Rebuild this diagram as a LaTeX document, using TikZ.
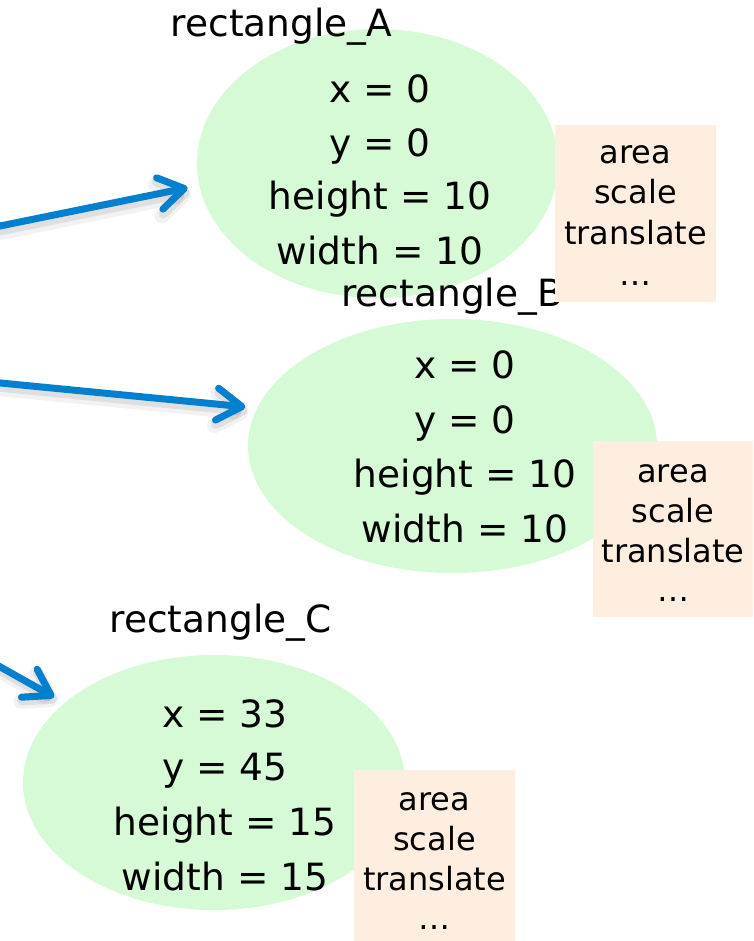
\documentclass[tikz,border=0pt]{standalone}
\usepackage{fontspec}
\setmainfont{DejaVu Sans}
\usetikzlibrary{shapes.geometric,arrows.meta}
\definecolor{ellgreen}{RGB}{213,250,213}
\definecolor{boxpeach}{RGB}{253,238,223}
\definecolor{arrblue}{RGB}{0,128,206}
\begin{document}
\begin{tikzpicture}[x=1pt,y=-1pt,
  ell/.style={ellipse, fill=ellgreen, draw=none, inner sep=0pt, outer sep=0pt},
  attr/.style={anchor=base, inner sep=0pt, font=\fontsize{37.5}{44}\selectfont},
  lbl/.style={anchor=base, inner sep=0pt, font=\fontsize{37.5}{44}\selectfont},
  methbox/.style={rectangle, fill=boxpeach, draw=none, inner sep=0pt, outer sep=0pt},
  meth/.style={anchor=base, inner sep=0pt, font=\fontsize{32}{38}\selectfont},
  barb/.style={-{Straight Barb[round,length=25pt,width=32pt]}},
  link/.style={draw=arrblue, line width=7pt, line cap=round, barb, shorten >=12pt},
  linkshadowA/.style={draw=black, opacity=0.05, line width=15pt, line cap=round, barb, shorten >=12pt},
  linkshadowB/.style={draw=black, opacity=0.08, line width=10pt, line cap=round, barb, shorten >=12pt}
]
\useasboundingbox (0,0) rectangle (753,941);
\clip (0,0) rectangle (753,941);
\fill[white] (0,0) rectangle (753,941);

% ---- rectangle_A ----
\node[ell, minimum width=361pt, minimum height=269pt] (eA) at (377.5,163.5) {};
\node[lbl] (lA) at (281.5,37) {rectangle\_A};
\node[attr] (a1) at (380,103) {x = 0};
\node[attr] (a2) at (380,157) {y = 0};
\node[attr] (a3) at (380,210) {height = 10};
\node[attr] (a4) at (380,264) {width = 10};

% ---- rectangle_B ----
\node[ell, minimum width=409pt, minimum height=254pt] (eB) at (452.5,446) {};
\node[lbl] (lB) at (452,306) {rectangle\_B};
\node[attr] (b1) at (465,378) {x = 0};
\node[attr] (b2) at (465,433) {y = 0};
\node[attr] (b3) at (465,487) {height = 10};
\node[attr] (b4) at (465,542) {width = 10};

% ---- method boxes A and B ----
\node[methbox, minimum width=161pt, minimum height=177pt] (mA) at (635.5,213.5) {};
\node[meth] (mA1) at (635.5,164) {area};
\node[meth] (mA2) at (635.5,204) {scale};
\node[meth] (mA3) at (635.5,244) {translate};
\node[meth] (mA4) at (635.5,285) {…};

\node[methbox, minimum width=160pt, minimum height=176pt] (mB) at (673,529) {};
\node[meth] (mB1) at (673,482) {area};
\node[meth] (mB2) at (673,522) {scale};
\node[meth] (mB3) at (673,562) {translate};
\node[meth] (mB4) at (673,601) {…};

% ---- rectangle_C ----
\node[ell, minimum width=382pt, minimum height=255pt] (eC) at (214,782.5) {};
\node[lbl] (lC) at (220.5,632) {rectangle\_C};
\node[attr] (c1) at (225,727) {x = 33};
\node[attr] (c2) at (225,780) {y = 45};
\node[attr] (c3) at (225,835) {height = 15};
\node[attr] (c4) at (225,890) {width = 15};

\node[methbox, minimum width=161pt, minimum height=175pt] (mC) at (434.5,857.5) {};
\node[meth] (mC1) at (434.5,810) {area};
\node[meth] (mC2) at (434.5,850) {scale};
\node[meth] (mC3) at (434.5,890) {translate};
\node[meth] (mC4) at (434.5,929) {…};

% ---- arrows ----
\coordinate (s1) at (-19.6,230);
\coordinate (s2) at (-19.9,381);
\coordinate (s3) at (-17.4,657);

\foreach \st/\en in {s1/eA.187, s2/eB.169.3, s3/eC.152.1}{
  \draw[linkshadowA] ([shift={(3,6)}]\st) -- ([shift={(3,6)}]\en);
  \draw[linkshadowB] ([shift={(2,4)}]\st) -- ([shift={(2,4)}]\en);
}
\draw[link] (s1) -- (eA.187);
\draw[link] (s2) -- (eB.169.3);
\draw[link] (s3) -- (eC.152.1);
\end{tikzpicture}
\end{document}
